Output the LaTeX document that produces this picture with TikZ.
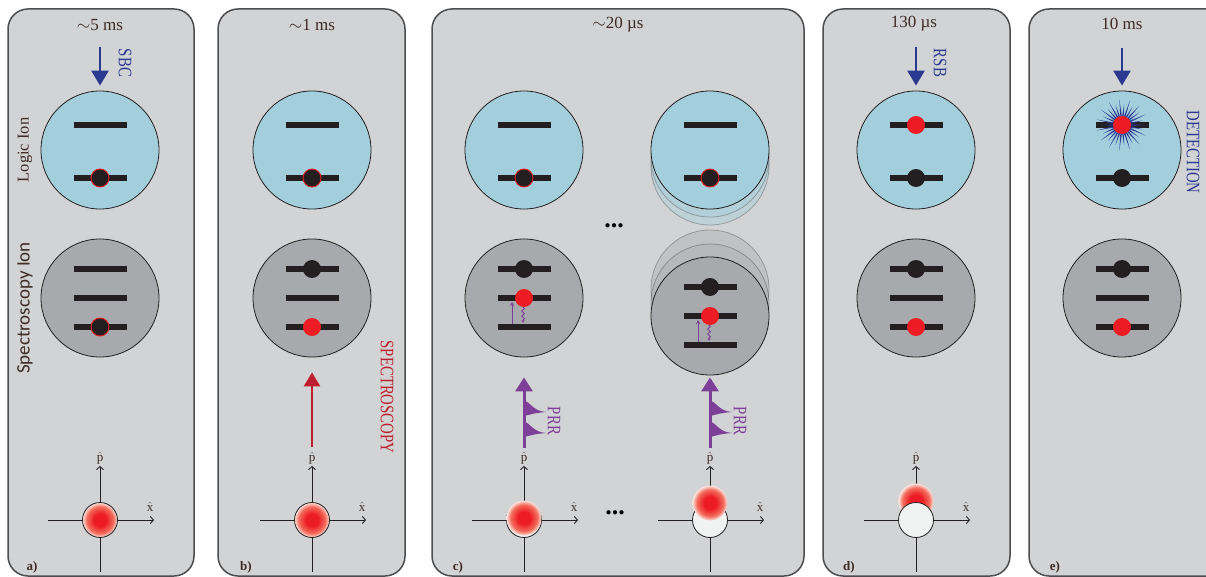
\documentclass[tikz,border=0pt]{standalone}
\usepackage{fontspec}
\usepackage{graphicx}
\setmainfont{Liberation Serif}
\newfontfamily\ionsans{Carlito}
\usetikzlibrary{arrows.meta,decorations.pathmorphing}

\definecolor{panelfill}{HTML}{D1D3D4}
\definecolor{panelline}{HTML}{4D4D4F}
\definecolor{ionline}{HTML}{231F20}
\definecolor{logicblue}{HTML}{A3CEDC}
\definecolor{specgray}{HTML}{A7A9AC}
\definecolor{barblack}{HTML}{231F20}
\definecolor{dotred}{HTML}{ED1C24}
\definecolor{beamblue}{HTML}{2B3990}
\definecolor{beamred}{HTML}{BE1E2D}
\definecolor{beampurple}{HTML}{7E3F98}
\definecolor{textbrown}{HTML}{3D2B26}
\definecolor{vacwhite}{HTML}{F1F2F2}
\definecolor{blobmid}{HTML}{F26B5B}
\definecolor{blobedge}{HTML}{FBE3DD}

% red wave packet, strong in the middle and pale at the rim
\pgfdeclareradialshading{packet}{\pgfpoint{0bp}{0bp}}{color(0bp)=(dotred); color(9bp)=(dotred);
  color(19bp)=(blobmid); color(25bp)=(blobedge); color(50bp)=(blobedge)}

\newcommand{\narrow}[1]{\scalebox{0.78}[1]{#1}}

\begin{document}
\begin{tikzpicture}[x=1pt,y=-1pt,
  panel/.style={draw=panelline,fill=panelfill,line width=1.5pt,rounded corners=20pt},
  logic/.style={circle,draw=ionline,line width=0.8pt,fill=logicblue,minimum size=118pt,inner sep=0pt},
  spec/.style={logic,fill=specgray},
  ghost/.style={fill opacity=0.4,draw opacity=0.3},
  level/.style={draw=barblack,line width=5.5pt},
  dark/.style={fill=barblack},
  cold/.style={fill=barblack,draw=dotred,line width=0.9pt},
  bright/.style={fill=dotred},
  title/.style={text=textbrown,font=\fontsize{17}{19}\selectfont},
  ionname/.style={text=textbrown,rotate=90,font=\fontsize{16.5}{18}\selectfont},
  beamname/.style={rotate=-90,font=\fontsize{19}{21}\selectfont},
  tag/.style={text=textbrown,font=\bfseries\fontsize{13}{15}\selectfont},
  axlab/.style={text=textbrown,font=\fontsize{13}{15}\selectfont},
  more/.style={font=\bfseries\fontsize{26}{28}\selectfont},
  axis/.style={draw=ionline,line width=0.9pt,-{Straight Barb[length=3pt,width=7pt]}},
  blueb/.style={draw=beamblue,line width=2.6pt,-{Triangle[width=17pt,length=15pt]}},
  redb/.style={draw=beamred,line width=2.6pt,-{Triangle[width=16pt,length=14pt]}},
  prr/.style={draw=beampurple,line width=3pt,-{Triangle[width=17pt,length=14pt]}},
  pump/.style={draw=beampurple,line width=0.9pt,-{Stealth[length=4pt,width=4pt]}},
  decay/.style={draw=beampurple,line width=0.9pt,decorate,
    decoration={snake,amplitude=1.4pt,segment length=5pt,post length=2pt},
    -{Stealth[length=3pt,width=3pt]}},
  vac/.style={fill=vacwhite,draw=ionline,line width=0.8pt},
  blob/.style={shading=packet}]
\useasboundingbox (0,0) rectangle (1206,577);
\fill[white] (0,0) rectangle (1206,577);

% the five stages
\foreach \l/\r in {8/194,218/405,432/804,823/1010,1029/1230}
  \draw[panel] (\l,9) rectangle (\r,576);
\node[title] (ta) at (100,25) {$\sim$5 ms};
\node[title] (tb) at (312,25) {$\sim$1 ms};
\node[title] (tc) at (618,25) {$\sim$20 \textmu s};
\node[title] (td) at (914,24) {130 \textmu s};
\node[title] (te) at (1122,24) {10 ms};
\foreach \x/\t in {32/a,246/b,458/c,849/d,1055/e}
  \node[tag] (tag\t) at (\x,567) {\t)};

\node[ionname] (logicname) at (25,150) {Logic Ion};
\node[ionname,font=\ionsans\fontsize{19}{21}\selectfont] (specname) at (25,308) {Spectroscopy Ion};

% shifted copies behind the last ion pair of c)
\foreach \dy in {16,8}
  \node[logic,ghost] (lghost\dy) at (710,150+\dy) {};
\foreach \dy in {27,13}
  \node[spec,ghost] (sghost\dy) at (710,316-\dy) {};

% ions and their levels
\foreach \cx/\n in {100/a,312/b,524/c,710/cc,916/d,1122/e}{
  \node[logic] (l\n) at (\cx,150) {};
  \draw[level] (\cx-26.5,125) -- (\cx+26.5,125);
  \draw[level] (\cx-26.5,178) -- (\cx+26.5,178);
}
\foreach \cx/\cy/\n in {100/298/a,312/298/b,524/298/c,710/316/cc,916/298/d,1122/298/e}{
  \node[spec] (s\n) at (\cx,\cy) {};
  \foreach \dy in {-29,0,29}
    \draw[level] (\cx-26.5,\cy+\dy) -- (\cx+26.5,\cy+\dy);
}

% populations
\foreach \cx in {100,312,524,710}
  \filldraw[cold] (\cx,178) circle[radius=9];
\filldraw[cold] (100,327) circle[radius=9];
\foreach \cx in {916,1122}
  \fill[dark] (\cx,178) circle[radius=9];
\foreach \cx in {312,916,1122}{
  \fill[dark] (\cx,269) circle[radius=9];
  \fill[bright] (\cx,327) circle[radius=9];
}
\foreach \cx/\cy in {524/298,710/316}{
  \fill[dark] (\cx,\cy-29) circle[radius=9];
  \draw[pump] (\cx-12,\cy+26) -- (\cx-12,\cy+4);
  \draw[decay] (\cx-1,\cy+9) -- (\cx-1,\cy+25);
  \fill[bright] (\cx,\cy) circle[radius=9];
}
\foreach \a in {0,24,...,336}
  \fill[beamblue] ([shift={(1122,125)}]\a-7:7) -- ([shift={(1122,125)}]\a:26)
    -- ([shift={(1122,125)}]\a+7:7) -- cycle;
\foreach \a in {12,36,...,348}
  \fill[beamblue] ([shift={(1122,125)}]\a-7:7) -- ([shift={(1122,125)}]\a:21)
    -- ([shift={(1122,125)}]\a+7:7) -- cycle;
\fill[bright] (916,125) circle[radius=9];
\fill[bright] (1122,125) circle[radius=9];

% lasers
\coordinate (sbc) at (100,47);
\draw[blueb,shorten >=5pt] (sbc) -- (la.north);
\node[beamname,text=beamblue] (sbcname) at (125,63) {\narrow{SBC}};
\coordinate (rsb) at (916,47);
\draw[blueb,shorten >=5pt] (rsb) -- (ld.north);
\node[beamname,text=beamblue] (rsbname) at (940,63) {\narrow{RSB}};
\coordinate (det) at (1122,48);
\draw[blueb,shorten >=5pt] (det) -- (le.north);
\node[beamname,text=beamblue] (detname) at (1193,152) {\narrow{DETECTION}};
\coordinate (spc) at (312,447);
\draw[redb,shorten >=15pt] (spc) -- (sb.south);
\node[beamname,text=beamred] (spcname) at (387,397) {\narrow{SPECTROSCOPY}};
\foreach \cx/\n/\s in {524/c/20,710/cc/2}{
  \coordinate (prr\n) at (\cx,448);
  \draw[prr,shorten >=\s pt] (prr\n) -- (s\n.south);
  \foreach \py in {412,433}
    \fill[beampurple] (\cx,\py-12) .. controls (\cx+7,\py-9) and (\cx+9,\py-1) .. (\cx+22,\py)
      .. controls (\cx+9,\py+1) and (\cx+5,\py+3) .. (\cx,\py+4) -- cycle;
  \node[beamname,text=beampurple] (prrname\n) at (\cx+30,421) {\narrow{PRR}};
}
\node[more] (morea) at (614,226) {...};
\node[more] (moreb) at (615,513) {...};

% phase space of the motion
\foreach \cx in {100,312,524,710,916}{
  \draw[axis] (\cx-52,520) -- (\cx+54,520);
  \draw[axis] (\cx,572) -- (\cx,466);
  \node[axlab] (p\cx) at (\cx,458) {$\hat{\mathrm{p}}$};
  \node[axlab] (x\cx) at (\cx+50,507) {$\hat{\mathrm{x}}$};
}
\foreach \cx in {100,312}
  \shadedraw[blob,draw=ionline,line width=0.8pt] (\cx,520) circle[radius=17.5];
\foreach \cx/\dy in {524/2,710/17}{
  \filldraw[vac] (\cx,520) circle[radius=17.5];
  \shade[blob] (\cx,520-\dy) circle[radius=17.5];
}
\shade[blob] (916,501) circle[radius=17.5];
\filldraw[vac] (916,520) circle[radius=17.5];
\end{tikzpicture}
\end{document}
